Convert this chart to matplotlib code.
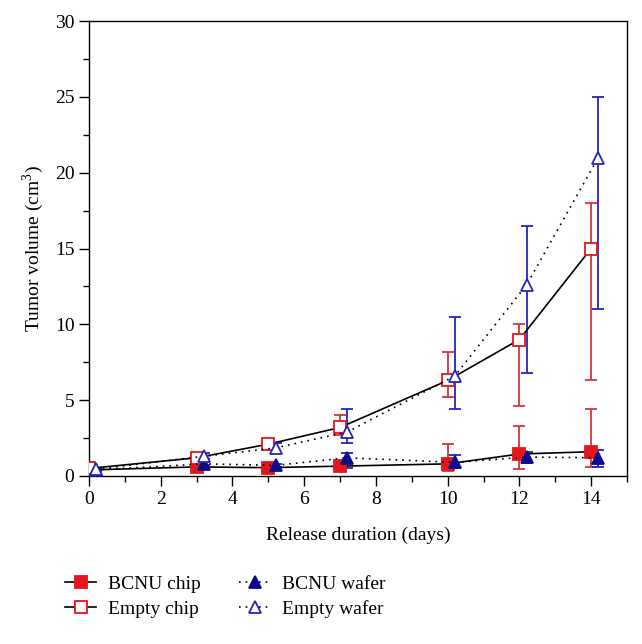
import matplotlib
matplotlib.use("Agg")
import matplotlib.pyplot as plt
import matplotlib.ticker as mticker
from matplotlib.lines import Line2D

# data
days_chip = [0, 3, 5, 7, 10, 12, 14]
days_wafer = [0.2, 3.2, 5.2, 7.2, 10.2, 12.2, 14.2]

bcnu_chip = [0.4, 0.6, 0.55, 0.65, 0.8, 1.45, 1.6]
bcnu_chip_lo = [0.1, 0.1, 0.1, 0.1, 0.5, 1.0, 1.0]
bcnu_chip_hi = [0.1, 0.1, 0.1, 0.1, 1.3, 1.85, 2.8]

empty_chip = [0.5, 1.2, 2.1, 3.2, 6.3, 9.0, 15.0]
empty_chip_lo = [0.2, 0.2, 0.2, 0.5, 1.1, 4.4, 8.7]
empty_chip_hi = [0.2, 0.2, 0.2, 0.8, 1.9, 1.0, 3.0]

bcnu_wafer = [0.4, 0.8, 0.7, 1.2, 0.9, 1.25, 1.2]
bcnu_wafer_lo = [0.1, 0.1, 0.1, 0.7, 0.4, 0.4, 0.6]
bcnu_wafer_hi = [0.1, 0.1, 0.1, 0.3, 0.5, 0.35, 0.5]

empty_wafer = [0.45, 1.3, 1.85, 2.9, 6.6, 12.6, 21.0]
empty_wafer_lo = [0.1, 0.2, 0.35, 0.7, 2.2, 5.8, 10.0]
empty_wafer_hi = [0.1, 0.2, 0.35, 1.5, 3.9, 3.9, 4.0]

labels = ["BCNU chip", "Empty chip", "BCNU wafer", "Empty wafer"]

plt.rcParams.update({
    "font.family": ["Liberation Serif", "DejaVu Serif"],
    "font.size": 13,
    "mathtext.fontset": "custom",
    "mathtext.rm": "Liberation Serif",
})

RED = "#E3161E"
RED_ERR = "#D8343A"
NAVY = "#0D0D8C"
BLUE = "#2424C0"
DOT = (0, (1, 3))

fig = plt.figure(figsize=(6.42, 6.44), dpi=100)
ax = fig.add_axes([89 / 642, 1 - 476 / 644, (627 - 89) / 642, (476 - 21) / 644])

common = dict(lw=1.2, capsize=4, elinewidth=1.3, capthick=1.3, ms=8)

# (x, y, lo, hi, linestyle, marker, face, edge, errcolor)
series = [
    (days_chip, bcnu_chip, bcnu_chip_lo, bcnu_chip_hi, "-", "s", RED, RED, RED_ERR),
    (days_chip, empty_chip, empty_chip_lo, empty_chip_hi, "-", "s", "white", RED, RED_ERR),
    (days_wafer, bcnu_wafer, bcnu_wafer_lo, bcnu_wafer_hi, DOT, "^", NAVY, NAVY, BLUE),
    (days_wafer, empty_wafer, empty_wafer_lo, empty_wafer_hi, DOT, "^", "white", BLUE, BLUE),
]

handles = []
for (x, y, lo, hi, ls, mk, fc, ec, errc), lab in zip(series, labels):
    ax.errorbar(x, y, yerr=[lo, hi], color="black", ls=ls, marker=mk,
                mfc=fc, mec=ec, mew=1.3, ecolor=errc, zorder=3, **common)
    handles.append(Line2D([], [], color="black", lw=1.2, ls=ls, marker=mk,
                          mfc=fc, mec=ec, mew=1.3, ms=8))

ax.set_xlim(0, 15)
ax.set_ylim(0, 30)
ax.xaxis.set_major_locator(mticker.MultipleLocator(2))
ax.xaxis.set_minor_locator(mticker.MultipleLocator(1))
ax.yaxis.set_major_locator(mticker.MultipleLocator(5))
ax.yaxis.set_minor_locator(mticker.MultipleLocator(2.5))
ax.tick_params(which="major", direction="out", length=7, width=1, labelsize=14)
ax.tick_params(which="minor", direction="out", length=4, width=1)
for sp in ax.spines.values():
    sp.set_linewidth(1.0)

ax.set_xlabel("Release duration (days)", fontsize=14, labelpad=14)
ax.set_ylabel("Tumor volume (cm$^3$)", fontsize=14, labelpad=6)

fig.legend(handles, labels, ncol=2, loc="upper left",
           bbox_to_anchor=(65 / 642, 1 - 575 / 644), borderaxespad=0, borderpad=0,
           frameon=False, handlelength=1.6, columnspacing=2.0, labelspacing=0.4,
           handletextpad=0.6, fontsize=14)

fig.savefig("out.png", dpi=100, facecolor="white")
